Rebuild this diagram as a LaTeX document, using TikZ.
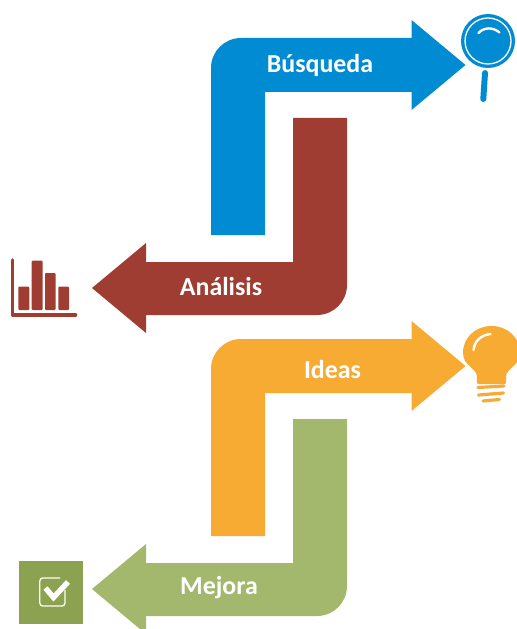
\documentclass[tikz,border=0pt]{standalone}
\usepackage{fontspec}
\setmainfont{Carlito}
\definecolor{cblue}{HTML}{008BD2}
\definecolor{cred}{HTML}{9F3D33}
\definecolor{corange}{HTML}{F7AB32}
\definecolor{cgreen}{HTML}{A3B76D}
\definecolor{cgreend}{HTML}{8CA251}
\tikzset{
  lbl/.style={text=white,font=\fontsize{26}{28}\bfseries\selectfont,inner sep=0pt},
  icoline/.style={line cap=round,line join=round},
}
\begin{document}
\begin{tikzpicture}[x=1bp,y=-1bp]
\useasboundingbox (0,0) rectangle (517,629);
% right-pointing arrows
\fill[cblue] (211,235) -- (211,68) .. controls (211,51.4) and (224.4,38) .. (241,38) -- (411.5,38) -- (411.5,20) -- (465.5,65) -- (411.5,110) -- (411.5,92) -- (265,92) -- (265,235) -- cycle;
\fill[corange] (211,536) -- (211,369) .. controls (211,352.4) and (224.4,339) .. (241,339) -- (411.5,339) -- (411.5,321) -- (465.5,366) -- (411.5,411) -- (411.5,393) -- (265,393) -- (265,536) -- cycle;
% left-pointing arrows
\fill[cred] (293,118) -- (347,118) -- (347,285) .. controls (347,301.6) and (333.6,315) .. (317,315) -- (146,315) -- (146,333) -- (92,288) -- (146,243) -- (146,262) -- (293,262) -- cycle;
\fill[cgreen] (293,419) -- (347,419) -- (347,586) .. controls (347,602.6) and (333.6,616) .. (317,616) -- (146,616) -- (146,634) -- (92,589) -- (146,544) -- (146,563) -- (293,563) -- cycle;
% labels
\node[lbl] (busq) at (320,65) {Búsqueda};
\node[lbl] (anal) at (221,287) {Análisis};
\node[lbl] (ideas) at (332.5,370) {Ideas};
\node[lbl] (mej) at (219,588) {Mejora};
% magnifier
\fill[cblue] (488,41) circle[radius=27];
\draw[white,line width=1.3pt] (488,41) circle[radius=23];
\draw[white,line width=2.4pt,icoline] (478.5,33) .. controls (484,27) and (493,27) .. (499.5,32.5);
\draw[cblue,line width=6pt,icoline] (485,73) -- (483.3,99);
% bar chart
\draw[cred,line width=3.6pt,icoline] (12.5,260) -- (12.5,315) -- (75.5,315);
\fill[cred,rounded corners=1pt] (18.3,286.7) rectangle (29.3,310);
\fill[cred,rounded corners=1pt] (31.7,260.7) rectangle (42.7,310);
\fill[cred,rounded corners=1pt] (45,273) rectangle (55.7,310);
\fill[cred,rounded corners=1pt] (58.3,286.7) rectangle (69,310);
% bulb
\fill[corange] (479,384) .. controls (476,384) and (477,381) .. (477,377) .. controls (477,368) and (463,366) .. (463,353) .. controls (463,337) and (476,326) .. (491.5,326) .. controls (507,326) and (520,337) .. (520,353) .. controls (520,366) and (506,368) .. (506,377) .. controls (506,381) and (507,384) .. (504,384) -- cycle;
\draw[white,line width=2.4pt,icoline] (473.5,350) .. controls (474.5,341) and (481,335) .. (490.5,334);
\draw[corange,line width=3.2pt,icoline] (478,387.5) -- (504,386);
\draw[corange,line width=3.2pt,icoline] (478.5,395) -- (503.5,393);
\draw[corange,line width=3.2pt,icoline] (483,401) -- (499.5,399.5);
% check box
\fill[cgreend] (19,561) rectangle (83,624);
\draw[white,line width=1.3pt,rounded corners=3pt] (65,590) -- (65,606) -- (39.8,606) -- (39.8,578) -- (60,578);
\draw[white,line width=5.4pt] (45.5,588) -- (53.5,597.5) -- (68,582);
\end{tikzpicture}
\end{document}
